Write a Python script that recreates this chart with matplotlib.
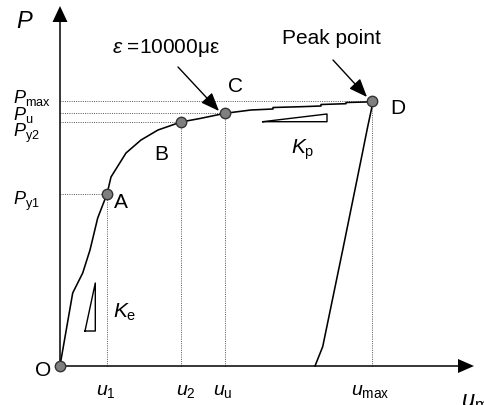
import matplotlib
matplotlib.use("Agg")
import matplotlib.pyplot as plt

plt.rcParams.update({
    "font.family": ["Liberation Sans", "DejaVu Sans"],
    "mathtext.fontset": "custom",
    "mathtext.rm": "Liberation Sans",
    "mathtext.it": "Liberation Sans:italic",
    "mathtext.bf": "Liberation Sans:bold",
})

# load-displacement curve (u, P), arbitrary units
u_curve = [0, 1, 12.7, 22.7, 30, 37.7, 47, 51, 66, 81, 98, 121, 140, 165,
           191, 213, 213, 241, 261, 261, 286, 286, 306, 312,
           311.7, 307.7, 301, 282.7, 262.7, 255]
p_curve = [0, 6, 73, 93, 116, 148, 172, 189, 213, 226, 236, 244, 247.5, 252.7,
           256, 257, 258.5, 259.3, 260, 261.5, 262.3, 263.5, 264, 265,
           258, 239.3, 206, 116, 19.3, 0]

# characteristic points
pt_names = ["O", "A", "B", "C", "D"]
pt_u = [0, 47, 121, 165, 312]
pt_p = [0, 172, 244, 252.7, 265]

# stiffness triangles
ke_u = [25, 35.3, 35.3, 25]
ke_p = [35, 83, 35, 35]
kp_u = [202.7, 267, 267, 202.7]
kp_p = [244.3, 252, 244.3, 244.3]

x_end, y_end = 414, 360

fig = plt.figure(figsize=(4.85, 4.05), dpi=100)
ax = fig.add_axes([0, 0, 1, 1])
ax.set_xlim(-60, 425)
ax.set_ylim(-39, 366)
ax.axis("off")

# axes with arrowheads
ax.plot([0, x_end - 14], [0, 0], color="black", lw=1.1, zorder=2)
ax.plot([0, 0], [0, y_end - 14], color="black", lw=1.1, zorder=2)
ax.fill([x_end - 16, x_end, x_end - 16], [7, 0, -7], color="black", lw=0)
ax.fill([-7.5, 0, 7.5], [y_end - 16, y_end, y_end - 16], color="black", lw=0)

# dotted guide lines
dot = dict(color="#555555", lw=0.7, ls=(0, (1, 1.3)), zorder=1)
for u, p in zip(pt_u[1:], pt_p[1:]):
    ax.plot([0, u], [p, p], **dot)
    ax.plot([u, u], [0, p], **dot)

# curve
ax.plot(u_curve, p_curve, color="black", lw=1.15, zorder=3)
ax.plot(pt_u, pt_p, "o", ms=7.5, mfc="#7f7f7f", mec="#333333", mew=1.0, zorder=4)

# triangles
ax.plot(ke_u, ke_p, color="black", lw=1.0)
ax.plot(kp_u, kp_p, color="black", lw=1.0)

fs = 15
# point letters
ax.text(61, 163, "A", fontsize=fs, ha="center", va="center")
ax.text(101, 212, "B", fontsize=fs, ha="center", va="center")
ax.text(176, 279, "C", fontsize=fs, ha="center", va="center")
ax.text(338, 258, "D", fontsize=fs, ha="center", va="center")
ax.text(-17, -5, "O", fontsize=fs, ha="center", va="center")
ax.text(65, 54, r"$K_{\mathrm{e}}$", fontsize=fs, ha="center", va="center")
ax.text(243, 216, r"$K_{\mathrm{p}}$", fontsize=fs, ha="center", va="center")

# y labels
fp = 13
ax.text(-35, 344, r"$P$", fontsize=17, ha="center", va="center")
ax.text(-47, 268, r"$P_{\mathrm{max}}$", fontsize=fp, ha="left", va="center")
ax.text(-47, 251, r"$P_{\mathrm{u}}$", fontsize=fp, ha="left", va="center")
ax.text(-47, 233, r"$P_{\mathrm{y2}}$", fontsize=fp, ha="left", va="center")
ax.text(-47, 165, r"$P_{\mathrm{y1}}$", fontsize=fp, ha="left", va="center")

# x labels
fu = 14
ax.text(46, -26, r"$u_{\mathrm{1}}$", fontsize=fu, ha="center", va="center")
ax.text(126, -26, r"$u_{\mathrm{2}}$", fontsize=fu, ha="center", va="center")
ax.text(163, -26, r"$u_{\mathrm{u}}$", fontsize=fu, ha="center", va="center")
ax.text(310, -26, r"$u_{\mathrm{max}}$", fontsize=fu, ha="center", va="center")
ax.text(401, -36, r"$u_{\mathrm{max}}$", fontsize=17, ha="left", va="center")

# annotations
arr = dict(arrowstyle="-|>,head_length=0.7,head_width=0.28", color="black",
           lw=1.0, mutation_scale=16, shrinkA=0, shrinkB=0)
ax.annotate("", xy=(159, 255), xytext=(118, 299), arrowprops=arr)
ax.text(106, 318, r"$\varepsilon$ =10000$\mathrm{\mu\varepsilon}$", fontsize=fs,
        ha="center", va="center")
ax.annotate("", xy=(307, 269), xytext=(273, 306), arrowprops=arr)
ax.text(271, 328, "Peak point", fontsize=fs, ha="center", va="center")

fig.savefig("out.png", dpi=100)
